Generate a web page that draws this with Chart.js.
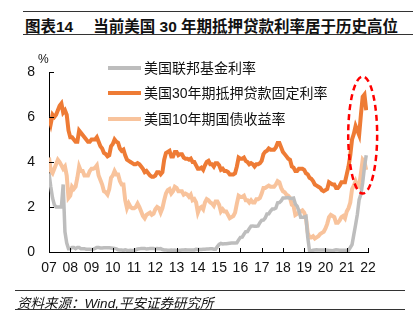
<!DOCTYPE html>
<html>
<head>
<meta charset="utf-8">
<script src="https://cdn.jsdelivr.net/npm/chart.js@4/dist/chart.umd.min.js"></script>
<style>
  html, body { margin: 0; padding: 0; background: #fff; }
  body { width: 416px; height: 331px; position: relative; overflow: hidden;
         font-family: "Liberation Sans", "Noto Sans CJK SC", sans-serif; color: #111; }
  #chart { position: absolute; left: 0; top: 0; }
  .rule { position: absolute; height: 0; border-top: 1.5px solid #333; }
  #title { position: absolute; left: 25px; top: 14px; font-size: 15.5px; font-weight: bold; white-space: nowrap; }
  #title .gap { display: inline-block; width: 20px; }
  #source { position: absolute; left: 17px; top: 292px; font-size: 13.5px; font-style: italic; white-space: nowrap; }
  #unit { position: absolute; left: 38px; top: 52px; font-size: 12px; }
  .leg { position: absolute; left: 108px; height: 20px; font-size: 14px; white-space: nowrap; }
  .leg span.swatch { position: absolute; left: 0; top: 8px; width: 33px; height: 4px; }
  .leg span.txt { position: absolute; left: 36px; top: 0; line-height: 20px; }
</style>
</head>
<body>
<div class="rule" style="left:23px; width:390px; top:11px;"></div>
<div id="title">图表14<span class="gap"></span>当前美国 30 年期抵押贷款利率居于历史高位</div>
<div class="rule" style="left:23px; width:390px; top:34px;"></div>

<canvas id="chart" width="416" height="331"></canvas>
<div id="unit">%</div>
<div id="legend"></div>

<div class="rule" style="left:15px; width:390px; top:290px;"></div>
<div id="source">资料来源：Wind,平安证券研究所</div>
<div class="rule" style="left:15px; width:390px; top:309px;"></div>

<script>
// Year labels on the x axis (one per tick)
const tickLabels = ['07', '08', '09', '10', '11', '12', '13', '14', '15', '16', '17', '18', '19', '20', '21', '22'];

// Series names
const seriesNames = ['美国联邦基金利率', '美国30年期抵押贷款固定利率', '美国10年期国债收益率'];

// Monthly values (first point sits on the y axis)
const fedFunds = [
  3.5, 2.9, 2.4, 2.1, 2.0, 2.0, 2.0, 2.0, 3.0, 0.9, 0.4, 0.15,
  0.15, 0.2, 0.2, 0.15, 0.2, 0.2, 0.15, 0.15, 0.15, 0.12, 0.12, 0.12,
  0.11, 0.13, 0.16, 0.2, 0.2, 0.18, 0.18, 0.19, 0.19, 0.19, 0.19, 0.18,
  0.17, 0.16, 0.14, 0.1, 0.09, 0.09, 0.07, 0.1, 0.08, 0.07, 0.08, 0.07,
  0.08, 0.1, 0.13, 0.14, 0.16, 0.16, 0.16, 0.13, 0.14, 0.16, 0.16, 0.16,
  0.14, 0.15, 0.14, 0.15, 0.11, 0.09, 0.09, 0.08, 0.08, 0.09, 0.08, 0.09,
  0.07, 0.07, 0.08, 0.09, 0.09, 0.1, 0.09, 0.09, 0.09, 0.09, 0.09, 0.12,
  0.11, 0.11, 0.11, 0.12, 0.12, 0.13, 0.13, 0.14, 0.14, 0.12, 0.12, 0.24,
  0.34, 0.38, 0.36, 0.37, 0.37, 0.38, 0.39, 0.4, 0.4, 0.4, 0.41, 0.54,
  0.65, 0.66, 0.79, 0.9, 0.91, 1.04, 1.15, 1.16, 1.15, 1.15, 1.16, 1.3,
  1.41, 1.42, 1.51, 1.69, 1.7, 1.82, 1.91, 1.91, 1.95, 2.19, 2.2, 2.27,
  2.4, 2.4, 2.41, 2.42, 2.39, 2.38, 2.4, 2.13, 2.04, 1.83, 1.55, 1.55,
  1.55, 1.58, 0.65, 0.05, 0.05, 0.08, 0.09, 0.1, 0.09, 0.09, 0.09, 0.09,
  0.09, 0.08, 0.07, 0.07, 0.06, 0.08, 0.1, 0.09, 0.08, 0.08, 0.08, 0.08,
  0.08, 0.08, 0.2, 0.33, 0.77, 1.21, 1.68, 2.33, 2.56, 3.08, 3.78, 4.3
];

const mortgage30 = [
  6.0, 5.7, 6.1, 6.0, 6.1, 6.3, 6.5, 6.6, 6.2, 6.3, 6.1, 5.4,
  5.1, 5.1, 5.0, 4.9, 4.9, 5.4, 5.3, 5.2, 5.1, 5.0, 4.9, 4.9,
  5.0, 5.0, 5.0, 5.1, 4.9, 4.7, 4.6, 4.4, 4.35, 4.25, 4.3, 4.7,
  4.8, 5.0, 4.9, 4.85, 4.6, 4.5, 4.55, 4.3, 4.1, 4.05, 4.0, 3.95,
  3.9, 3.9, 3.95, 3.9, 3.8, 3.7, 3.55, 3.6, 3.5, 3.4, 3.35, 3.35,
  3.4, 3.55, 3.55, 3.45, 3.55, 4.1, 4.4, 4.45, 4.5, 4.25, 4.25, 4.45,
  4.45, 4.3, 4.35, 4.35, 4.2, 4.15, 4.15, 4.1, 4.15, 4.0, 4.0, 3.85,
  3.7, 3.7, 3.75, 3.65, 3.85, 4.0, 4.05, 3.9, 3.9, 3.8, 3.95, 3.95,
  3.85, 3.65, 3.7, 3.6, 3.6, 3.55, 3.45, 3.45, 3.45, 3.5, 3.8, 4.2,
  4.15, 4.15, 4.2, 4.05, 4.0, 3.9, 3.95, 3.9, 3.8, 3.9, 3.9, 3.95,
  4.05, 4.35, 4.45, 4.5, 4.6, 4.55, 4.55, 4.55, 4.65, 4.85, 4.85, 4.65,
  4.45, 4.35, 4.25, 4.15, 4.1, 3.8, 3.75, 3.6, 3.6, 3.7, 3.7, 3.7,
  3.65, 3.5, 3.45, 3.3, 3.25, 3.15, 3.0, 2.95, 2.9, 2.85, 2.75, 2.7,
  2.75, 2.8, 3.1, 3.05, 3.0, 3.0, 2.85, 2.85, 2.95, 3.1, 3.1, 3.1,
  3.45, 3.8, 4.3, 5.0, 5.25, 5.6, 5.4, 5.2, 6.1, 6.9, 7.0, 6.3
];

const treasury10 = [
  4.2, 3.6, 3.5, 3.7, 3.9, 4.1, 4.0, 3.85, 3.7, 3.8, 3.4, 2.4,
  2.5, 2.9, 2.8, 2.9, 3.3, 3.8, 3.6, 3.6, 3.4, 3.4, 3.4, 3.6,
  3.7, 3.7, 3.75, 3.85, 3.4, 3.2, 3.0, 2.7, 2.65, 2.55, 2.8, 3.3,
  3.4, 3.6, 3.45, 3.45, 3.15, 3.0, 3.0, 2.3, 1.95, 2.15, 2.0, 1.95,
  1.95, 2.0, 2.15, 2.0, 1.8, 1.6, 1.5, 1.65, 1.7, 1.75, 1.65, 1.7,
  1.9, 2.0, 1.95, 1.75, 1.95, 2.3, 2.6, 2.75, 2.8, 2.6, 2.7, 2.9,
  2.85, 2.7, 2.7, 2.7, 2.55, 2.6, 2.55, 2.45, 2.55, 2.3, 2.35, 2.2,
  1.75, 1.95, 2.0, 1.9, 2.2, 2.35, 2.3, 2.2, 2.15, 2.05, 2.25, 2.25,
  2.1, 1.8, 1.9, 1.8, 1.8, 1.65, 1.5, 1.55, 1.6, 1.75, 2.15, 2.5,
  2.45, 2.45, 2.5, 2.3, 2.3, 2.2, 2.3, 2.2, 2.2, 2.35, 2.35, 2.4,
  2.6, 2.85, 2.85, 2.9, 2.95, 2.9, 2.9, 2.9, 3.0, 3.15, 3.1, 2.85,
  2.7, 2.65, 2.55, 2.5, 2.4, 2.1, 2.05, 1.65, 1.7, 1.75, 1.8, 1.85,
  1.75, 1.5, 0.85, 0.65, 0.65, 0.7, 0.6, 0.65, 0.7, 0.8, 0.85, 0.9,
  1.05, 1.25, 1.55, 1.65, 1.6, 1.55, 1.3, 1.3, 1.4, 1.55, 1.6, 1.5,
  1.8, 1.95, 2.2, 2.8, 2.95, 3.15, 2.95, 2.9, 3.5, 4.1, 4.0, 3.65
];

const colors = ['#BDBDBD', '#EE7B35', '#F8C39C'];

// one unit on the x axis = one year, first month at 0
function toPoints(values) {
  return values.map((v, i) => ({ x: i / 12, y: v }));
}

// Legend (vertical, inside the plot)
const legendTops = [58, 83, 109];
const legendEl = document.getElementById('legend');
seriesNames.forEach((name, i) => {
  const row = document.createElement('div');
  row.className = 'leg';
  row.style.top = legendTops[i] + 'px';
  row.innerHTML = `<span class="swatch" style="background:${colors[i]}"></span><span class="txt">${name}</span>`;
  legendEl.appendChild(row);
});

// Inward tick marks and the red dashed ellipse
const extrasPlugin = {
  id: 'extras',
  afterDraw(chart) {
    const ctx = chart.ctx;
    const xs = chart.scales.x;
    const ys = chart.scales.y;
    const area = chart.chartArea;
    ctx.save();
    ctx.strokeStyle = '#000';
    ctx.lineWidth = 1;
    ys.ticks.forEach(t => {
      const py = Math.round(ys.getPixelForValue(t.value)) + 0.5;
      ctx.beginPath();
      ctx.moveTo(area.left, py);
      ctx.lineTo(area.left + 5, py);
      ctx.stroke();
    });
    xs.ticks.forEach(t => {
      const px = Math.round(xs.getPixelForValue(t.value)) + 0.5;
      ctx.beginPath();
      ctx.moveTo(px, area.bottom);
      ctx.lineTo(px, area.bottom - 4);
      ctx.stroke();
    });
    // highlight around the 2022 jump
    const cx = xs.getPixelForValue(14.75);
    const cy = ys.getPixelForValue(5.2);
    const rx = xs.getPixelForValue(14.75 + 0.68) - cx;
    const ry = ys.getPixelForValue(5.2) - ys.getPixelForValue(5.2 + 2.6);
    ctx.strokeStyle = '#FF0000';
    ctx.lineWidth = 2.5;
    ctx.setLineDash([6, 4]);
    ctx.beginPath();
    ctx.ellipse(cx, cy, rx, ry, 0, 0, Math.PI * 2);
    ctx.stroke();
    ctx.restore();
  }
};

const tickFont = { family: '"Liberation Sans", Arial, sans-serif', size: 14 };

new Chart(document.getElementById('chart'), {
  type: 'line',
  data: {
    datasets: [
      { label: seriesNames[0], data: toPoints(fedFunds), borderColor: colors[0], borderWidth: 3.5 },
      { label: seriesNames[1], data: toPoints(mortgage30), borderColor: colors[1], borderWidth: 4 },
      { label: seriesNames[2], data: toPoints(treasury10), borderColor: colors[2], borderWidth: 4 }
    ]
  },
  options: {
    responsive: false,
    animation: false,
    devicePixelRatio: 1,
    layout: { padding: { left: 0, top: 72, right: 48, bottom: 0 } },
    elements: { point: { radius: 0 }, line: { tension: 0 } },
    plugins: { legend: { display: false }, tooltip: { enabled: false } },
    scales: {
      x: {
        type: 'linear',
        min: 0,
        max: 15,
        afterFit(scale) { scale.height = 79; },
        grid: { display: false, drawTicks: false },
        border: { display: true, color: '#000', width: 1 },
        ticks: {
          stepSize: 1,
          autoSkip: false,
          maxRotation: 0,
          padding: 8,
          color: '#111',
          font: tickFont,
          callback: v => tickLabels[v]
        }
      },
      y: {
        min: 0,
        max: 8,
        afterFit(scale) { scale.width = 49; },
        grid: { display: false, drawTicks: false },
        border: { display: true, color: '#000', width: 1 },
        ticks: { stepSize: 2, padding: 14, color: '#111', font: tickFont }
      }
    }
  },
  plugins: [extrasPlugin]
});
</script>
</body>
</html>
